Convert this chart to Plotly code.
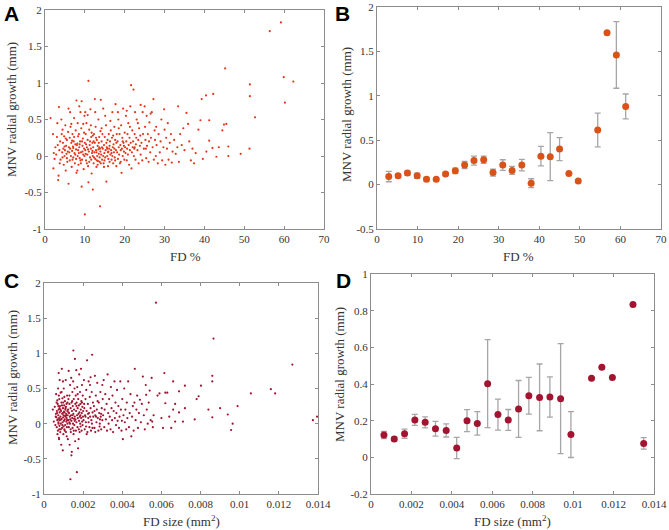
import plotly.graph_objects as go

# ---------------- Panel A: FD % vs MNV radial growth (individual lesions) ----------------
scatter_a = [
    (1.4,0.52),(2.0,0.3),(2.2,0.04),(2.4,-0.04),(2.1,-0.17),(2.6,0.12),(3.0,0.26),(3.1,0.45),(3.3,-0.33),(3.4,-0.27),
    (3.5,0.67),(3.6,0.08),(3.8,0.2),(3.9,-0.05),(2.8,0.02),(3.2,0.15),(3.7,-0.1),
    (4.1,0.5),(4.2,0.3),(4.3,0.05),(4.4,-0.02),(4.5,0.18),(4.6,0.1),(4.7,-0.12),(4.8,0.27),(4.9,0.0),(5.0,0.08),
    (5.1,0.42),(5.2,-0.2),(5.3,0.14),(5.4,0.03),(5.5,0.22),(5.6,-0.08),(5.7,0.06),(5.8,0.33),(5.9,0.65),(5.9,-0.38),
    (6.0,0.12),(4.4,0.36),(5.2,0.24),(5.5,-0.03),(4.9,0.13),
    (6.1,0.05),(6.2,0.25),(6.2,-0.06),(6.3,0.1),(6.4,0.4),(6.5,0.0),(6.6,0.18),(6.7,-0.15),(6.8,0.07),(6.9,0.3),
    (7.0,0.13),(7.1,-0.02),(7.2,0.2),(7.3,0.52),(7.4,0.04),(7.5,-0.1),(7.6,0.16),(7.7,0.35),(7.8,0.09),(7.9,0.76),
    (7.9,-0.23),(8.0,0.15),(6.3,0.6),(6.9,-0.05),(7.3,0.26),(7.6,0.02),(6.6,0.44),(7.1,0.11),(7.8,-0.04),(6.8,0.21),
    (8.1,0.17),(8.2,0.0),(8.2,0.45),(8.3,0.08),(8.4,-0.12),(8.5,0.3),(8.6,0.12),(8.7,-0.03),(8.8,0.2),(8.9,0.6),
    (9.0,0.05),(9.1,0.38),(9.2,0.75),(9.2,-0.42),(9.3,-0.05),(9.4,0.14),(9.5,0.24),(9.6,0.02),(9.7,-0.18),(9.8,0.1),
    (9.9,0.55),(10.0,0.18),(10.0,-0.8),(8.3,0.27),(8.7,0.16),(9.0,-0.1),(9.4,0.06),(9.8,0.32),(8.5,0.04),(9.6,0.44),
    (8.9,-0.06),(9.3,0.2),(8.1,-0.2),(9.9,0.0),(8.6,0.68),
    (10.1,0.08),(10.2,0.3),(10.3,-0.06),(10.4,0.45),(10.5,0.12),(10.6,0.02),(10.7,0.22),(10.8,-0.14),(10.9,1.03),
    (10.9,-0.36),(11.0,0.06),(11.1,0.36),(11.2,0.15),(11.3,-0.02),(11.4,0.64),(11.5,0.1),(11.6,0.26),(11.7,-0.24),
    (11.8,0.04),(11.9,0.18),(12.0,-0.46),(12.0,0.0),(10.3,0.16),(10.7,0.56),(11.1,-0.08),(11.5,0.42),(11.9,0.07),
    (10.5,-0.1),(11.3,0.2),(10.1,0.6),(11.7,0.32),(10.8,0.09),(11.6,-0.05),(12.0,0.28),(10.2,0.03),
    (12.1,0.12),(12.2,-0.1),(12.3,0.3),(12.4,0.05),(12.5,0.78),(12.5,0.18),(12.6,-0.04),(12.7,0.4),(12.8,0.08),
    (12.9,-0.15),(13.0,0.22),(13.1,0.0),(13.2,0.14),(13.3,-0.07),(13.4,0.5),(13.5,0.03),(13.6,0.26),(13.7,-0.02),
    (13.8,-0.69),(13.8,0.1),(13.9,0.06),(14.0,0.77),(14.0,-0.1),(12.3,-0.02),(12.8,0.25),(13.2,-0.12),(13.6,0.12),
    (12.6,0.6),(13.0,-0.06),(13.9,0.34),(12.2,0.2),(13.4,0.09),(13.7,-0.08),(12.9,0.05),(13.5,0.18),
    (14.1,0.02),(14.2,0.2),(14.3,-0.05),(14.4,0.3),(14.5,0.1),(14.6,0.65),(14.7,-0.1),(14.8,0.15),(14.9,0.04),
    (15.0,0.26),(15.1,-0.02),(15.2,0.08),(15.3,0.42),(15.4,-0.35),(15.5,0.12),(15.6,0.0),(15.7,0.22),(15.8,-0.14),
    (15.9,0.06),(16.0,0.3),(14.3,0.12),(14.9,-0.06),(15.4,0.18),(15.8,0.05),(14.6,0.0),(15.1,0.55),(15.9,-0.04),
    (14.2,0.38),(15.6,0.1),(14.8,-0.15),
    (16.1,0.1),(16.2,-0.08),(16.3,0.2),(16.4,0.02),(16.5,0.35),(16.6,0.08),(16.7,-0.05),(16.8,0.25),(16.9,0.6),
    (17.0,0.12),(17.1,-0.1),(17.2,0.16),(17.3,0.05),(17.4,0.4),(17.5,-0.02),(17.6,0.22),(17.7,0.71),(17.8,0.08),
    (17.9,-0.14),(18.0,0.3),(16.4,0.48),(16.9,0.0),(17.4,0.1),(17.9,0.18),(16.2,0.14),(17.1,0.28),(17.6,-0.06),(16.7,0.04),
    (18.1,0.05),(18.2,0.2),(18.3,-0.04),(18.4,0.5),(18.5,0.12),(18.6,0.02),(18.7,0.3),(18.8,-0.1),(18.9,0.15),
    (19.0,0.08),(19.1,0.42),(19.2,-0.23),(19.3,0.1),(19.4,0.25),(19.5,0.0),(19.6,0.65),(19.7,0.18),(19.8,0.06),
    (19.9,-0.05),(20.0,0.32),(18.5,0.38),(19.0,-0.08),(19.5,0.2),(18.3,0.6),(19.8,0.14),
    (20.1,0.12),(20.2,0.04),(20.3,0.55),(20.4,0.2),(20.5,-0.06),(20.6,0.1),(20.7,0.3),(20.8,0.02),(20.9,0.45),
    (21.0,0.15),(21.1,-0.12),(21.2,0.25),(21.3,0.08),(21.4,0.68),(21.5,0.18),(21.6,0.97),(21.7,-0.17),(21.8,0.05),
    (21.9,0.35),(22.0,0.12),(20.5,0.62),(21.3,0.4),
    (22.1,0.2),(22.2,0.91),(22.3,0.0),(22.4,0.1),(22.5,0.3),(22.6,0.6),(22.7,-0.05),(22.8,0.16),(22.9,0.25),
    (23.0,0.5),(23.2,0.08),(23.4,0.22),(23.5,-0.1),(23.6,0.38),(23.8,0.14),(24.0,0.7),(24.0,0.02),(22.5,0.12),
    (23.3,0.45),(23.9,0.28),
    (24.2,0.18),(24.4,-0.06),(24.5,0.6),(24.6,0.3),(24.8,0.1),(25.0,0.68),(25.1,0.4),(25.2,0.22),(25.4,-0.03),
    (25.5,0.55),(25.6,0.14),(25.8,0.3),(26.0,-0.08),(26.1,0.2),(26.2,0.46),(26.4,0.05),(26.6,0.25),(26.8,0.6),
    (27.0,0.12),(27.2,0.78),(27.3,-0.05),(27.5,0.35),(27.6,0.22),(27.8,0.0),(28.0,0.15),(26.5,0.58),(25.3,0.1),(27.9,0.4),
    (28.3,-0.1),(28.5,0.3),(28.8,0.05),(29.0,0.2),(29.4,-0.06),(29.7,0.12),(29.9,0.64),(30.0,0.36),(30.2,-0.12),
    (30.4,0.25),(30.6,0.1),(30.8,0.45),(31.0,-0.05),(31.3,0.18),(31.6,0.3),(31.8,-0.09),(32.0,0.06),(29.2,0.5),
    (32.4,0.22),(32.8,0.03),(33.2,0.12),(33.4,0.68),(33.6,-0.08),(33.9,0.3),(34.3,0.15),(34.7,0.38),(35.0,0.08),
    (35.5,0.59),(35.9,0.44),(36.2,0.2),(36.6,-0.06),(37.0,0.1),(37.4,-0.1),(37.8,0.04),(38.5,0.36),(39.0,0.49),
    (39.3,0.78),(39.6,-0.04),
    (40.4,0.83),(40.5,0.06),(41.2,0.49),(41.2,0.21),(42.0,0.11),(42.2,0.85),(43.0,-0.01),(43.6,0.12),(44.5,0.35),
    (44.9,0.43),(45.2,1.2),(45.5,0.44),(46.0,0.13),(46.0,0.0),(49.1,0.03),(51.3,0.1),(51.4,0.98),(51.4,0.82),
    (52.7,0.53),(56.4,1.71),(59.2,1.83),(59.9,1.08),(60.2,0.73),(62.3,1.02),
]
fd_pct_a = [p[0] for p in scatter_a]
growth_a = [p[1] for p in scatter_a]

# ---------------- Panel B: binned FD % means with error bars ----------------
fd_pct_b = [2.9, 5.2, 7.5, 9.9, 12.2, 14.6, 16.9, 19.3, 21.6, 23.9, 26.3, 28.6, 31.0, 33.3, 35.7,
            38.0, 40.4, 42.7, 45.0, 47.3, 49.6, 54.4, 56.7, 59.0, 61.3]
growth_b = [0.09, 0.10, 0.13, 0.10, 0.06, 0.06, 0.12, 0.155, 0.22, 0.27, 0.28, 0.135, 0.22, 0.16, 0.22,
            0.016, 0.32, 0.315, 0.40, 0.125, 0.04, 0.615, 1.71, 1.46, 0.88]
err_b = [0.058, 0.02, 0.025, 0.03, 0.02, 0.015, 0.02, 0.03, 0.04, 0.05, 0.04, 0.04, 0.06, 0.045, 0.065,
         0.05, 0.11, 0.27, 0.13, 0.0, 0.0, 0.19, 0.0, 0.375, 0.14]

# ---------------- Panel C: FD size vs MNV radial growth ----------------
scatter_c = [
    (0.00045,0.2),(0.0005,0.03),(0.00055,0.24),(0.00058,-0.02),(0.0006,0.1),(0.00062,0.42),(0.00064,0.3),(0.00065,-0.05),
    (0.00067,0.15),(0.00068,0.05),(0.0007,0.28),(0.00071,-0.1),(0.00072,0.5),(0.00073,0.12),(0.00074,0.02),(0.00075,0.72),
    (0.00075,0.2),(0.00076,-0.2),(0.00077,0.08),(0.00078,0.35),(0.00079,-0.03),(0.0008,0.16),(0.0008,0.62),(0.00066,0.18),
    (0.00069,-0.15),(0.00071,0.06),(0.00073,0.25),(0.00076,0.4),(0.00078,-0.08),(0.00063,0.09),(0.00074,0.0),(0.00079,0.22),
    (0.00061,0.14),(0.00068,0.33),(0.00077,-0.22),
    (0.00081,0.05),(0.00082,0.25),(0.00083,-0.12),(0.00084,0.1),(0.00085,0.44),(0.00086,0.0),(0.00087,0.18),(0.00088,-0.3),
    (0.00089,0.3),(0.0009,0.07),(0.00091,0.78),(0.00092,-0.06),(0.00093,0.14),(0.00094,0.36),(0.00095,0.02),(0.00096,-0.38),
    (0.00097,0.22),(0.00098,0.09),(0.00099,-0.15),(0.001,0.12),(0.00101,0.5),(0.00102,0.04),(0.00103,0.26),(0.00104,-0.08),
    (0.00105,0.16),(0.00106,0.06),(0.00107,0.32),(0.00108,-0.02),(0.00109,0.2),(0.0011,0.1),(0.00111,0.62),(0.00112,-0.12),
    (0.00113,0.14),(0.00114,0.03),(0.00115,0.28),(0.00116,0.08),(0.00117,-0.05),(0.00118,0.4),(0.00119,0.18),(0.0012,0.0),
    (0.00084,0.2),(0.00088,0.06),(0.00092,0.26),(0.00096,0.15),(0.001,-0.04),(0.00104,0.38),(0.00108,0.11),(0.00112,0.24),
    (0.00116,-0.18),(0.0012,0.3),(0.00086,-0.08),(0.0009,0.45),(0.00094,-0.02),(0.00098,0.3),(0.00102,0.17),(0.00106,-0.1),
    (0.0011,0.22),(0.00114,0.12),(0.00118,0.05),(0.00097,0.6),
    (0.00121,0.12),(0.00122,-0.22),(0.00123,0.2),(0.00124,0.05),(0.00125,0.35),(0.00126,0.75),(0.00127,-0.05),(0.00128,0.15),
    (0.00129,0.02),(0.0013,0.28),(0.00131,-0.3),(0.00132,0.1),(0.00133,0.55),(0.00134,0.06),(0.00135,-0.79),(0.00136,0.22),
    (0.00137,-0.12),(0.00138,0.12),(0.00139,0.65),(0.0014,0.04),(0.0014,-0.45),(0.00141,0.3),(0.00142,-0.4),(0.00143,0.18),
    (0.00144,0.08),(0.00145,0.45),(0.00146,-0.06),(0.00147,0.25),(0.00148,0.0),(0.00149,0.6),(0.0015,1.04),(0.0015,0.14),
    (0.00151,-0.15),(0.00152,0.35),(0.00153,0.07),(0.00154,0.2),(0.00155,-0.02),(0.00156,0.5),(0.00157,0.1),(0.00158,0.92),
    (0.00159,-0.25),(0.0016,0.28),(0.00125,0.16),(0.0013,0.4),(0.00136,-0.08),(0.00144,0.32),(0.00152,-0.1),(0.00146,0.12),
    (0.00133,0.0),(0.00157,0.04),
    (0.00161,0.06),(0.00162,0.4),(0.00163,-0.1),(0.00164,0.18),(0.00165,0.76),(0.00166,0.02),(0.00167,0.3),(0.00168,-0.69),
    (0.00169,0.12),(0.0017,0.52),(0.00171,-0.05),(0.00172,0.22),(0.00173,0.08),(0.00174,-0.35),(0.00175,0.35),(0.00176,0.14),
    (0.00177,-0.22),(0.00178,0.26),(0.00179,0.04),(0.0018,0.7),(0.00181,0.16),(0.00182,-0.12),(0.00183,0.1),(0.00184,0.45),
    (0.00185,0.0),(0.00186,0.28),(0.00187,-0.04),(0.00188,0.2),(0.00189,0.78),(0.0019,0.08),(0.00191,0.32),(0.00192,-0.1),
    (0.00193,0.15),(0.00194,0.55),(0.00195,0.03),(0.00196,0.24),(0.00197,-0.02),(0.00198,0.4),(0.00199,0.1),(0.002,0.18),
    (0.00166,0.25),(0.00172,0.42),(0.00178,-0.08),(0.00186,0.12),(0.00194,0.3),
    (0.00202,0.05),(0.00204,0.62),(0.00206,0.22),(0.00208,-0.08),(0.0021,0.12),(0.00212,0.35),(0.00214,0.02),(0.00216,0.48),
    (0.00218,0.18),(0.0022,0.9),(0.00222,-0.12),(0.00224,0.28),(0.00226,0.08),(0.00228,0.6),(0.0023,0.15),(0.00232,-0.05),
    (0.00234,0.38),(0.00236,0.1),(0.00238,0.22),(0.0024,-0.1),(0.00242,0.05),(0.00244,0.45),(0.00246,0.98),(0.00248,0.16),
    (0.0025,0.3),(0.00205,0.28),(0.00215,-0.04),(0.00225,0.14),(0.00235,0.55),(0.00245,0.0),(0.00212,0.1),(0.00228,0.02),
    (0.00238,0.66),(0.00218,-0.15),(0.00248,-0.06),
    (0.00252,0.1),(0.00255,0.25),(0.00258,-0.06),(0.0026,0.68),(0.00262,0.12),(0.00265,0.4),(0.00268,0.02),(0.0027,0.2),
    (0.00272,0.58),(0.00275,0.08),(0.00278,-0.1),(0.0028,0.3),(0.00282,0.15),(0.00285,0.0),(0.00288,0.45),(0.0029,0.1),
    (0.00292,-0.08),(0.00295,0.22),(0.00298,0.05),(0.003,0.35),(0.00258,0.18),(0.00266,0.1),(0.00274,0.32),(0.00284,-0.04),
    (0.00292,0.14),(0.00298,0.55),(0.00262,-0.12),(0.00286,0.06),
    (0.00302,0.12),(0.00305,0.62),(0.00308,-0.05),(0.0031,0.2),(0.00313,0.42),(0.00316,0.06),(0.0032,0.28),(0.00322,-0.1),
    (0.00325,0.7),(0.00328,0.15),(0.0033,0.0),(0.00333,0.35),(0.00336,0.1),(0.0034,-0.08),(0.00342,0.52),(0.00345,0.22),
    (0.00348,0.05),(0.0035,0.4),(0.00353,-0.12),(0.00356,0.18),(0.0036,0.6),(0.00362,0.08),(0.00365,0.3),(0.00368,-0.02),
    (0.0037,0.15),(0.00373,0.48),(0.00376,0.04),(0.0038,0.25),(0.00383,-0.06),(0.00386,0.1),(0.0039,0.6),(0.00393,0.2),
    (0.00396,-0.1),(0.004,0.35),(0.00398,0.04),
    (0.00403,-0.22),(0.00406,0.12),(0.0041,0.5),(0.00413,0.02),(0.00416,0.2),(0.0042,-0.08),(0.00423,0.3),(0.00426,0.08),
    (0.0043,0.6),(0.00434,-0.05),(0.00438,0.15),(0.00442,0.42),(0.00446,-0.18),(0.0045,0.1),(0.00454,0.25),(0.00458,-0.1),
    (0.00462,0.3),(0.00464,0.78),(0.00468,0.05),(0.00472,0.2),(0.00476,0.4),(0.0048,-0.06),(0.00485,0.15),(0.0049,0.34),
    (0.00495,0.02),(0.005,0.28),
    (0.00505,0.67),(0.0051,0.12),(0.00515,-0.08),(0.0052,0.55),(0.00522,0.41),(0.00525,0.2),(0.0053,0.0),(0.00535,0.3),
    (0.0054,0.47),(0.00545,0.05),(0.0055,0.65),(0.00553,0.03),(0.00556,-0.05),(0.0056,0.12),(0.00572,1.72),(0.0058,0.4),
    (0.0059,0.43),(0.006,0.08),(0.00608,-0.06),(0.00615,0.72),(0.0062,0.44),(0.0062,0.29),(0.0063,0.44),(0.0064,0.1),
    (0.0065,-0.06),(0.0066,0.6),(0.0066,0.2),(0.0067,0.28),(0.0067,0.03),(0.0069,0.46),(0.0069,0.16),
    (0.0071,0.03),(0.0072,0.54),(0.0072,0.22),(0.0077,0.06),(0.0078,0.35),(0.0079,0.39),(0.00802,0.54),(0.0084,0.2),
    (0.0086,0.09),(0.0086,0.68),(0.0086,0.6),(0.00866,1.21),(0.009,0.22),(0.00939,0.13),(0.00956,-0.09),(0.00964,0.0),
    (0.00989,0.25),(0.01057,0.43),(0.01159,0.49),(0.01181,0.43),(0.01269,0.84),(0.01374,0.05),(0.01395,0.1),
]
fd_size_c = [p[0] for p in scatter_c]
growth_c = [p[1] for p in scatter_c]

# ---------------- Panel D: binned FD size means with error bars ----------------
fd_size_d = [0.00064, 0.00115, 0.00166, 0.00217, 0.00268, 0.00319, 0.00372, 0.00424, 0.00475, 0.00526,
             0.00577, 0.00628, 0.00679, 0.0073, 0.00781, 0.00834, 0.00885, 0.00938, 0.00989, 0.01091,
             0.01142, 0.01194, 0.01296, 0.01349]
growth_d = [0.122, 0.10, 0.129, 0.204, 0.191, 0.156, 0.147, 0.051, 0.20, 0.185, 0.402, 0.233, 0.204,
            0.264, 0.336, 0.327, 0.329, 0.32, 0.124, 0.431, 0.491, 0.435, 0.833, 0.076]
err_d = [0.02, 0.012, 0.025, 0.03, 0.03, 0.04, 0.036, 0.058, 0.06, 0.064, 0.24, 0.085, 0.057, 0.155,
         0.1, 0.182, 0.11, 0.3, 0.125, 0.0, 0.0, 0.0, 0.0, 0.031]

# ---------------- Tick labels ----------------
pct_ticks = [0, 10, 20, 30, 40, 50, 60, 70]
size_ticks = [0, 0.002, 0.004, 0.006, 0.008, 0.01, 0.012, 0.014]
size_tick_labels = ["0", "0.002", "0.004", "0.006", "0.008", "0.01", "0.012", "0.014"]
growth_ticks_ac = [-1, -0.5, 0, 0.5, 1, 1.5, 2]
growth_labels_ac = ["-1", "-0.5", "0", "0.5", "1", "1.5", "2"]
growth_ticks_b = [-0.5, 0, 0.5, 1, 1.5, 2]
growth_labels_b = ["-0.5", "0", "0.5", "1", "1.5", "2"]
growth_ticks_d = [-0.2, 0, 0.2, 0.4, 0.6, 0.8, 1]
growth_labels_d = ["-0.2", "0", "0.2", "0.4", "0.6", "0.8", "1"]

W, H = 669, 530
SERIF = "Liberation Serif"
AX_COLOR = "#8c8c8c"
TXT_COLOR = "#333333"


def px(x0, x1):
    return [x0 / W, x1 / W]


def py(top, bottom):
    return [1 - bottom / H, 1 - top / H]


fig = go.Figure()

fig.add_trace(go.Scatter(x=fd_pct_a, y=growth_a, mode="markers", xaxis="x", yaxis="y",
                         marker=dict(size=2.2, color="#e4361c"), showlegend=False))
fig.add_trace(go.Scatter(x=fd_pct_b, y=growth_b, mode="markers", xaxis="x2", yaxis="y2",
                         error_y=dict(type="data", array=err_b, visible=True, color="#a6a6a6",
                                      thickness=1.3, width=3),
                         marker=dict(size=7, color="#d95319"), showlegend=False))
fig.add_trace(go.Scatter(x=fd_size_c, y=growth_c, mode="markers", xaxis="x3", yaxis="y3",
                         marker=dict(size=2.2, color="#a2142f"), showlegend=False))
fig.add_trace(go.Scatter(x=fd_size_d, y=growth_d, mode="markers", xaxis="x4", yaxis="y4",
                         error_y=dict(type="data", array=err_d, visible=True, color="#a6a6a6",
                                      thickness=1.3, width=3),
                         marker=dict(size=7, color="#a2142f"), showlegend=False))


def axis(domain, rng, tickvals, ticktext, anchor):
    return dict(domain=domain, range=rng, tickvals=tickvals, ticktext=ticktext, anchor=anchor,
                automargin=False,
                showgrid=False, zeroline=False, showline=True, linecolor=AX_COLOR, linewidth=1,
                mirror="ticks", ticks="inside", ticklen=3, tickcolor=AX_COLOR, tickwidth=1,
                tickfont=dict(family=SERIF, size=11, color=TXT_COLOR))


pct_labels = [str(v) for v in pct_ticks]
fig.update_layout(
    width=W, height=H, margin=dict(l=0, r=0, t=0, b=0, autoexpand=False),
    paper_bgcolor="white", plot_bgcolor="white",
    xaxis=axis(px(45, 324), [0, 70], pct_ticks, pct_labels, "y"),
    yaxis=axis(py(10, 229), [-1, 2], growth_ticks_ac, growth_labels_ac, "x"),
    xaxis2=axis(px(377, 661), [0, 70], pct_ticks, pct_labels, "y2"),
    yaxis2=axis(py(7, 229), [-0.5, 2], growth_ticks_b, growth_labels_b, "x2"),
    xaxis3=axis(px(44, 318), [0, 0.014], size_ticks, size_tick_labels, "y3"),
    yaxis3=axis(py(283, 494), [-1, 2], growth_ticks_ac, growth_labels_ac, "x3"),
    xaxis4=axis(px(371, 654), [0, 0.014], size_ticks, size_tick_labels, "y4"),
    yaxis4=axis(py(274, 494), [-0.2, 1], growth_ticks_d, growth_labels_d, "x4"),
)

title_font = dict(family=SERIF, size=13, color=TXT_COLOR)
ann = []
# y-axis titles
for (xc, yc) in [(12, 110), (346, 115), (12, 378), (339, 375)]:
    ann.append(dict(text="MNV radial growth (mm)", x=xc / W, y=1 - yc / H, xref="paper", yref="paper",
                    textangle=-90, showarrow=False, font=title_font, xanchor="center", yanchor="middle"))
# x-axis titles
for (txt, xc, yc) in [("FD %", 185, 256), ("FD %", 518, 256),
                      ("FD size (mm<sup>2</sup>)", 181, 521), ("FD size (mm<sup>2</sup>)", 512, 521)]:
    ann.append(dict(text=txt, x=xc / W, y=1 - yc / H, xref="paper", yref="paper",
                    showarrow=False, font=title_font, xanchor="center", yanchor="middle"))
# panel letters
for (txt, xc, yc) in [("A", 11, 14), ("B", 342, 14), ("C", 11, 280), ("D", 343, 280)]:
    ann.append(dict(text="<b>%s</b>" % txt, x=xc / W, y=1 - yc / H, xref="paper", yref="paper",
                    showarrow=False, font=dict(family="Liberation Sans", size=21, color="black"),
                    xanchor="center", yanchor="middle"))
fig.update_layout(annotations=ann)

fig.write_html("out.html", config={"displayModeBar": False},
               post_script="document.body.style.margin='0px';document.body.style.overflow='hidden';")
